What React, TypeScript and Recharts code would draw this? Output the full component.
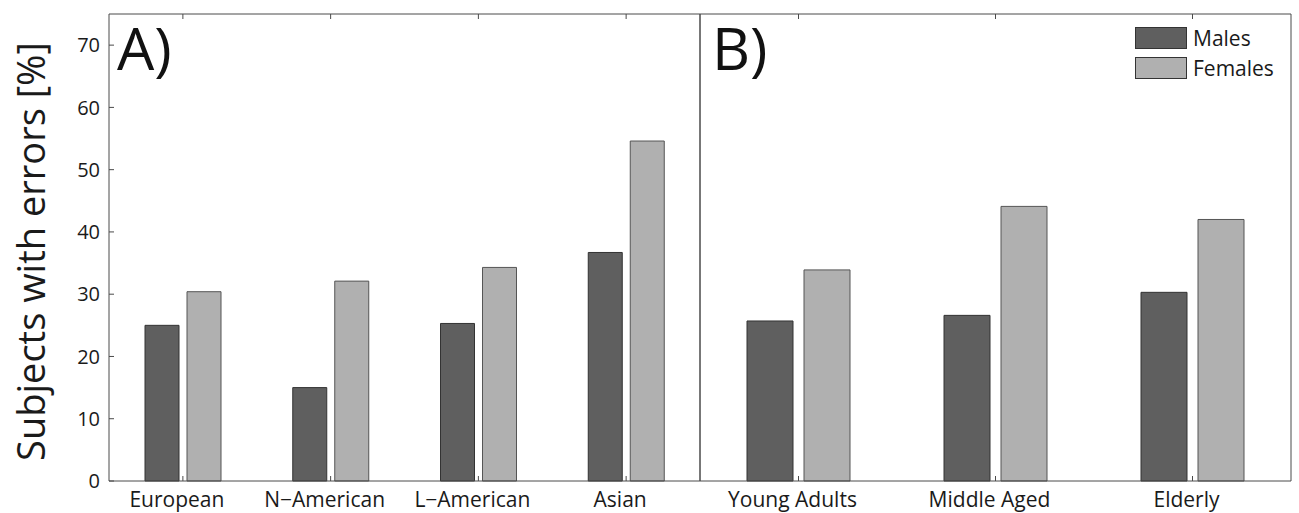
import { BarChart, Bar, XAxis, YAxis, Legend } from 'recharts'

const regions = ['European', 'N\u2212American', 'L\u2212American', 'Asian']
const regionMales = [25.0, 15.0, 25.3, 36.7]
const regionFemales = [30.4, 32.1, 34.3, 54.6]

const ageGroups = ['Young Adults', 'Middle Aged', 'Elderly']
const ageMales = [25.7, 26.6, 30.3]
const ageFemales = [33.9, 44.1, 42.0]

const yTicks = [0, 10, 20, 30, 40, 50, 60, 70]
const seriesNames = ['Males', 'Females']

const MALE = '#5f5f5f'
const FEMALE = '#b0b0b0'
const AXIS = '#4a4a4a'
const FONT = '"Open Sans", sans-serif'

const regionData = regions.map((name, i) => ({
  name,
  males: regionMales[i],
  females: regionFemales[i],
}))
const ageData = ageGroups.map((name, i) => ({
  name,
  males: ageMales[i],
  females: ageFemales[i],
}))

function LegendBox() {
  const colors = [MALE, FEMALE]
  return (
    <div style={{ fontFamily: FONT, fontSize: 21, color: '#1a1a1a' }}>
      {seriesNames.map((n, i) => (
        <div
          key={n}
          style={{ display: 'flex', alignItems: 'center', height: 22, marginBottom: 8 }}
        >
          <div
            style={{
              width: 50,
              height: 20,
              background: colors[i],
              border: '1px solid #333',
              marginRight: 6,
            }}
          />
          <span style={{ lineHeight: '22px' }}>{n}</span>
        </div>
      ))}
    </div>
  )
}

interface PanelProps {
  data: { name: string; males: number; females: number }[]
  width: number
  leftWidth: number
  barSize: number
  barGap: number
  tag: string
  tagX: number
  showLabels?: boolean
  showLegend?: boolean
}

function Panel({ data, width, leftWidth, barSize, barGap, tag, tagX, showLabels, showLegend }: PanelProps) {
  const xTickStyle = { fontSize: 21, fill: '#1a1a1a', fontFamily: FONT, dx: -6 }
  const yTickStyle = { fontSize: 20, fill: '#1a1a1a', fontFamily: FONT }
  return (
    <BarChart
      width={width}
      height={513}
      data={data}
      margin={{ top: 13, right: 0, left: 0, bottom: 0 }}
      barSize={barSize}
      barGap={barGap}
    >
      <XAxis
        dataKey="name"
        xAxisId="bottom"
        height={32}
        stroke={AXIS}
        tickSize={-5}
        tickMargin={16}
        tick={xTickStyle}
        interval={0}
      />
      <XAxis
        dataKey="name"
        xAxisId="top"
        orientation="top"
        height={1}
        stroke={AXIS}
        tickSize={-5}
        tickFormatter={() => ''}
        interval={0}
      />
      <YAxis
        yAxisId="left"
        width={Math.max(leftWidth, 1)}
        domain={[0, 75]}
        ticks={yTicks}
        stroke={AXIS}
        tickSize={-5}
        tickMargin={14}
        tick={showLabels ? yTickStyle : false}
        tickFormatter={showLabels ? undefined : () => ''}
        label={
          showLabels
            ? {
                content: ({ viewBox }: any) => {
                  const cx = viewBox.x + 30
                  const cy = viewBox.y + viewBox.height / 2 + 4
                  return (
                    <text
                      x={cx}
                      y={cy}
                      transform={`rotate(-90 ${cx} ${cy})`}
                      textAnchor="middle"
                      dominantBaseline="central"
                      fontSize={38}
                      fontFamily={FONT}
                      fill="#1a1a1a"
                    >
                      Subjects with errors [%]
                    </text>
                  )
                },
              }
            : undefined
        }
      />
      <YAxis
        yAxisId="right"
        orientation="right"
        width={1}
        domain={[0, 75]}
        ticks={yTicks}
        stroke={AXIS}
        tickSize={-5}
        tickFormatter={() => ''}
      />
      {showLegend && (
        <Legend
          layout="horizontal"
          verticalAlign="middle"
          align="center"
          content={() => <LegendBox />}
          wrapperStyle={{ position: 'absolute', top: 27, left: 436, width: 150 }}
        />
      )}
      <Bar
        dataKey="males"
        name="Males"
        xAxisId="bottom"
        yAxisId="left"
        fill={MALE}
        stroke="#333"
        strokeWidth={1}
        isAnimationActive={false}
      />
      <Bar
        dataKey="females"
        name="Females"
        xAxisId="bottom"
        yAxisId="left"
        fill={FEMALE}
        stroke="#555"
        strokeWidth={1}
        isAnimationActive={false}
      />
      <text x={tagX} y={70} fontSize={59} fontFamily={FONT} fill="#111">
        {tag}
      </text>
    </BarChart>
  )
}

export default function App() {
  return (
    <div
      style={{
        position: 'absolute',
        left: 0,
        top: 0,
        width: 1299,
        height: 513,
        background: '#fff',
      }}
    >
      <div style={{ position: 'absolute', left: 0, top: 0 }}>
        <Panel
          data={regionData}
          width={701}
          leftWidth={109}
          barSize={34}
          barGap={8}
          tag="A)"
          tagX={117}
          showLabels
        />
      </div>
      <div style={{ position: 'absolute', left: 699, top: 0 }}>
        <Panel
          data={ageData}
          width={593}
          leftWidth={0}
          barSize={46}
          barGap={11}
          tag="B)"
          tagX={13}
          showLegend
        />
      </div>
    </div>
  )
}
